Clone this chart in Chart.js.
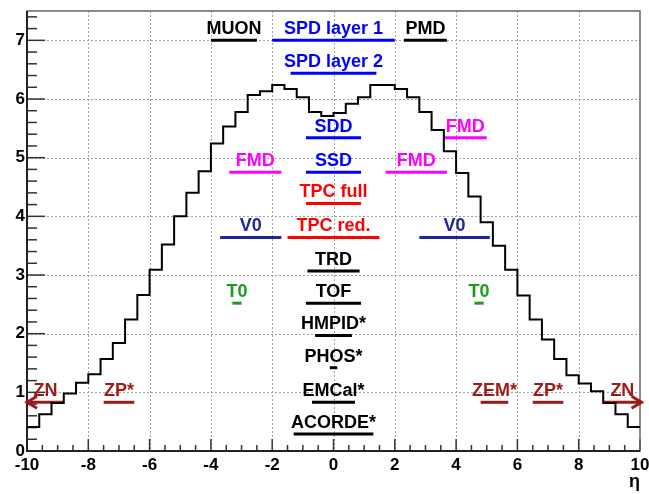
<!DOCTYPE html>
<html>
<head>
<meta charset="utf-8">
<script src="https://cdn.jsdelivr.net/npm/chart.js@4.4.0/dist/chart.umd.min.js"></script>
<style>
  body { margin: 0; background: #fff; }
  canvas { display: block; }
</style>
</head>
<body>
<canvas id="etaChart" width="649" height="494" style="width:649px;height:494px"></canvas>
<script>
// bin low edges in eta (width 0.4), last entry closes the histogram
const etaEdges = [-10, -9.6, -9.2, -8.8, -8.4, -8, -7.6, -7.2, -6.8, -6.4,
  -6, -5.6, -5.2, -4.8, -4.4, -4, -3.6, -3.2, -2.8, -2.4,
  -2, -1.6, -1.2, -0.8, -0.4, 0, 0.4, 0.8, 1.2, 1.6,
  2, 2.4, 2.8, 3.2, 3.6, 4, 4.4, 4.8, 5.2, 5.6,
  6, 6.4, 6.8, 7.2, 7.6, 8, 8.4, 8.8, 9.2, 9.6, 10];
// dN/deta per bin
const dndeta = [0.41, 0.625, 0.82, 0.98, 1.165, 1.31, 1.57, 1.84, 2.24, 2.66,
  3.09, 3.52, 4.0, 4.4, 4.77, 5.24, 5.53, 5.78, 6.07, 6.13,
  6.24, 6.17, 6.03, 5.78, 5.71, 5.76, 5.92, 6.03, 6.24, 6.24,
  6.17, 6.03, 5.78, 5.47, 5.11, 4.74, 4.34, 3.90, 3.50, 3.09,
  2.65, 2.24, 1.90, 1.57, 1.29, 1.15, 1.02, 0.82, 0.625, 0.41];

// detector acceptances
const detNames = ['MUON', 'SPD layer 1', 'PMD', 'SPD layer 2', 'SDD', 'FMD', 'FMD', 'SSD', 'FMD',
  'TPC full', 'V0', 'TPC red.', 'V0', 'TRD', 'T0', 'TOF', 'T0', 'HMPID*', 'PHOS*', 'EMCal*',
  'ZN', 'ZP*', 'ZEM*', 'ZP*', 'ZN', 'ACORDE*'];
const detLo = [-4.0, -2.0, 2.3, -1.4, -0.9, 3.6, -3.4, -0.9, 1.7,
  -0.9, -3.7, -1.5, 2.8, -0.85, -3.3, -0.9, 4.6, -0.6, -0.12, -0.7,
  -10, -7.5, 4.8, 6.5, 8.8, -1.3];
const detHi = [-2.5, 2.0, 3.7, 1.4, 0.9, 5.0, -1.7, 0.9, 3.7,
  0.9, -1.7, 1.5, 5.1, 0.85, -3.0, 0.9, 4.9, 0.6, 0.12, 0.7,
  -8.8, -6.5, 5.7, 7.5, 10.05, 1.3];
const detY = [7.0, 7.0, 7.0, 6.44, 5.34, 5.34, 4.75, 4.75, 4.75,
  4.22, 3.64, 3.64, 3.64, 3.07, 2.52, 2.52, 2.52, 1.97, 1.42, 0.83,
  0.83, 0.83, 0.83, 0.83, 0.83, 0.29];
const detColors = ['#000000', '#0000ff', '#000000', '#0000ff', '#0000ff', '#ff00ff', '#ff00ff', '#0000ff', '#ff00ff',
  '#ff0000', '#1c2896', '#ff0000', '#1c2896', '#000000', '#1a9a1a', '#000000', '#1a9a1a', '#000000', '#000000', '#000000',
  '#9e1a1a', '#9e1a1a', '#9e1a1a', '#9e1a1a', '#9e1a1a', '#000000'];
// arrow head: -1 at low end, +1 at high end, 0 none
const detArrow = [0, 0, 0, 0, 0, 0, 0, 0, 0, 0, 0, 0, 0, 0, 0, 0, 0, 0, 0, 0, -1, 0, 0, 0, 1, 0];

const xTicks = [-10, -8, -6, -4, -2, 0, 2, 4, 6, 8, 10];
const yTicks = [0, 1, 2, 3, 4, 5, 6, 7];

const FONT = "'Liberation Sans', Arial, Helvetica, sans-serif";
Chart.defaults.font.family = FONT;
Chart.defaults.color = '#000';

const histPoints = etaEdges.map((e, i) => ({ x: e, y: dndeta[Math.min(i, dndeta.length - 1)] }));

const datasets = [{
  data: histPoints,
  borderColor: '#000',
  borderWidth: 2,
  stepped: 'before',
  pointRadius: 0,
  fill: false
}];
detNames.forEach((n, i) => {
  datasets.push({
    label: n,
    data: [{ x: detLo[i], y: detY[i] }, { x: detHi[i], y: detY[i] }],
    borderColor: detColors[i],
    borderWidth: 3,
    pointRadius: 0,
    clip: 8,
    det: i
  });
});

// ROOT style frame: dotted grid, inside ticks, frame box
const framePlugin = {
  id: 'frame',
  beforeDatasetsDraw(chart) {
    const { ctx, chartArea: a, scales: { x, y } } = chart;
    ctx.save();
    ctx.strokeStyle = '#a0a0a0';
    ctx.lineWidth = 1;
    ctx.setLineDash([2, 2]);
    xTicks.slice(1, -1).forEach(v => {
      const px = Math.round(x.getPixelForValue(v)) + 0.5;
      ctx.beginPath(); ctx.moveTo(px, a.top); ctx.lineTo(px, a.bottom); ctx.stroke();
    });
    yTicks.slice(1).forEach(v => {
      const py = Math.round(y.getPixelForValue(v)) + 0.5;
      ctx.beginPath(); ctx.moveTo(a.left, py); ctx.lineTo(a.right, py); ctx.stroke();
    });
    ctx.setLineDash([]);
    // ticks
    ctx.strokeStyle = '#333';
    ctx.lineWidth = 1.5;
    for (let v = -10; v <= 10.001; v += 0.5) {
      const px = x.getPixelForValue(v);
      const major = Math.abs(v / 2 - Math.round(v / 2)) < 1e-6;
      ctx.beginPath(); ctx.moveTo(px, a.bottom); ctx.lineTo(px, a.bottom - (major ? 12 : 6)); ctx.stroke();
    }
    for (let k = 0; k <= 37; k++) {
      const v = k * 0.2;
      const py = y.getPixelForValue(v);
      const major = k % 5 === 0;
      ctx.beginPath(); ctx.moveTo(a.left, py); ctx.lineTo(a.left + (major ? 18 : 10), py); ctx.stroke();
    }
    // frame
    ctx.strokeStyle = '#666';
    ctx.lineWidth = 1.5;
    ctx.strokeRect(a.left, a.top, a.right - a.left, a.bottom - a.top);
    ctx.strokeStyle = '#222';
    ctx.lineWidth = 2;
    ctx.beginPath();
    ctx.moveTo(a.left, a.top); ctx.lineTo(a.left, a.bottom); ctx.lineTo(a.right, a.bottom);
    ctx.stroke();
    ctx.restore();
  },
  afterDatasetsDraw(chart) {
    const { ctx } = chart;
    ctx.save();
    ctx.font = 'bold 18px ' + FONT;
    ctx.textAlign = 'center';
    ctx.textBaseline = 'alphabetic';
    chart.data.datasets.forEach((ds, di) => {
      if (ds.det === undefined) return;
      const i = ds.det;
      const pts = chart.getDatasetMeta(di).data;
      const p0 = pts[0], p1 = pts[1];
      ctx.fillStyle = detColors[i];
      ctx.fillText(detNames[i], (p0.x + p1.x) / 2, p0.y - 6);
      if (detArrow[i] !== 0) {
        const tip = detArrow[i] < 0 ? p0 : p1;
        const d = detArrow[i];
        ctx.strokeStyle = detColors[i];
        ctx.lineWidth = 3;
        ctx.beginPath();
        ctx.moveTo(tip.x - d * 10, tip.y - 6);
        ctx.lineTo(tip.x, tip.y);
        ctx.lineTo(tip.x - d * 10, tip.y + 6);
        ctx.stroke();
      }
    });
    ctx.restore();
  }
};

new Chart(document.getElementById('etaChart'), {
  type: 'line',
  data: { datasets },
  options: {
    responsive: false,
    animation: false,
    layout: { padding: { top: 11, right: 9, left: 0, bottom: 0 } },
    plugins: { legend: { display: false }, tooltip: { enabled: false } },
    scales: {
      x: {
        type: 'linear',
        min: -10,
        max: 10,
        grid: { display: false, drawTicks: false },
        border: { display: false },
        afterBuildTicks: s => { s.ticks = xTicks.map(v => ({ value: v })); },
        afterFit: s => { s.height = 43; s.paddingLeft = 0; s.paddingRight = 0; },
        ticks: { font: { size: 17, weight: 'bold' }, padding: 4, maxRotation: 0, autoSkip: false },
        title: {
          display: true, text: 'η', align: 'end',
          font: { size: 18, weight: 'bold' }, padding: { top: 0, bottom: 1 }
        }
      },
      y: {
        min: 0,
        max: 7.5,
        grid: { display: false, drawTicks: false },
        border: { display: false },
        afterBuildTicks: s => { s.ticks = yTicks.map(v => ({ value: v })); },
        afterFit: s => { s.width = 27; s.paddingTop = 0; s.paddingBottom = 0; },
        ticks: { font: { size: 17, weight: 'bold' }, padding: 2 }
      }
    }
  },
  plugins: [framePlugin]
});
</script>
</body>
</html>
